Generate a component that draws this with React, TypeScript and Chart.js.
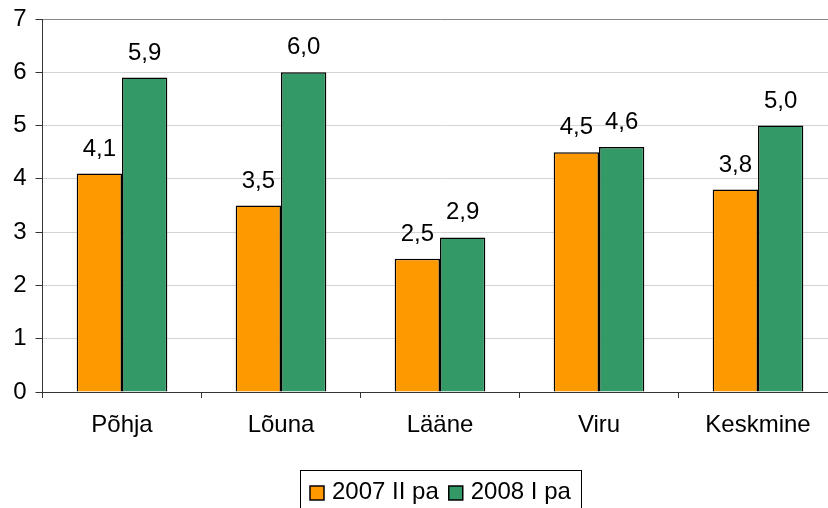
import React, { useEffect, useRef } from "react";
import { Chart, registerables } from "chart.js";

Chart.register(...registerables);

const categories = ["Põhja", "Lõuna", "Lääne", "Viru", "Keskmine"];
const series2007 = [4.1, 3.5, 2.5, 4.5, 3.8];
const series2008 = [5.9, 6.0, 2.9, 4.6, 5.0];
const seriesNames = ["2007 II pa", "2008 I pa"];
const yTicks = [0, 1, 2, 3, 4, 5, 6, 7];

const FONT = "'Liberation Sans', Arial, sans-serif";

const valueLabels = {
  id: "valueLabels",
  afterDatasetsDraw(chart: any) {
    const ctx = chart.ctx;
    ctx.save();
    ctx.font = `24px ${FONT}`;
    ctx.fillStyle = "#000";
    ctx.textAlign = "center";
    ctx.textBaseline = "alphabetic";
    chart.data.datasets.forEach((ds: any, di: number) => {
      const meta = chart.getDatasetMeta(di);
      meta.data.forEach((el: any, i: number) => {
        const v = ds.data[i];
        ctx.fillText(v.toFixed(1).replace(".", ","), el.x, el.y - 18);
      });
    });
    ctx.restore();
  },
};

const boxLegend = {
  id: "boxLegend",
  afterDraw(chart: any) {
    const ctx = chart.ctx;
    const area = chart.chartArea;
    ctx.save();
    ctx.font = `24px ${FONT}`;
    const padX = 10;
    const sw = 14;
    const gapText = 8;
    const gapItem = 10;
    const items = chart.data.datasets.map((ds: any) => ({
      text: ds.label,
      color: ds.backgroundColor,
      w: ctx.measureText(ds.label).width,
    }));
    let total = padX * 2;
    items.forEach((it: any, i: number) => {
      total += sw + gapText + it.w + (i > 0 ? gapItem : 0);
    });
    const cx = (area.left + area.right) / 2;
    const left = Math.round(cx - total / 2);
    const top = Math.round(area.bottom + 78);
    ctx.strokeStyle = "#000";
    ctx.lineWidth = 1;
    ctx.strokeRect(left + 0.5, top + 0.5, Math.round(total), 60);
    let x = left + padX;
    const swTop = area.bottom + 94;
    const baseline = area.bottom + 107;
    items.forEach((it: any) => {
      ctx.fillStyle = it.color;
      ctx.fillRect(x, swTop, sw, sw);
      ctx.strokeStyle = "#000";
      ctx.lineWidth = 1.5;
      ctx.strokeRect(x, swTop, sw, sw);
      ctx.fillStyle = "#000";
      ctx.textAlign = "left";
      ctx.textBaseline = "alphabetic";
      ctx.fillText(it.text, x + sw + gapText, baseline);
      x += sw + gapText + it.w + gapItem;
    });
    ctx.restore();
  },
};

export default function App() {
  const ref = useRef<HTMLCanvasElement>(null);
  useEffect(() => {
    if (!ref.current) return;
    const chart = new Chart(ref.current, {
      type: "bar",
      data: {
        labels: categories,
        datasets: [
          {
            label: seriesNames[0],
            data: series2007,
            backgroundColor: "#FF9900",
            borderColor: "#000",
            borderWidth: 1.5,
            categoryPercentage: 0.57,
            barPercentage: 1,
          },
          {
            label: seriesNames[1],
            data: series2008,
            backgroundColor: "#339966",
            borderColor: "#000",
            borderWidth: 1.5,
            categoryPercentage: 0.57,
            barPercentage: 1,
          },
        ],
      },
      plugins: [valueLabels, boxLegend],
      options: {
        responsive: false,
        animation: false,
        layout: { padding: { top: 19, right: 8.5, left: 0, bottom: 49 } },
        plugins: {
          tooltip: { enabled: false },
          legend: { display: false },
        },
        scales: {
          x: {
            afterFit(scale: any) {
              scale.height = 74;
            },
            grid: {
              offset: true,
              drawOnChartArea: false,
              drawTicks: true,
              tickLength: 6,
              tickColor: "#333",
            },
            border: { color: "#333", width: 1 },
            ticks: {
              color: "#000",
              padding: 13,
              font: { family: FONT, size: 24 },
            },
          },
          y: {
            min: 0,
            max: 7,
            afterFit(scale: any) {
              scale.width = 42.5;
              scale.paddingTop = 0;
              scale.paddingBottom = 0;
            },
            afterBuildTicks(scale: any) {
              scale.ticks = yTicks.map((v) => ({ value: v }));
            },
            grid: {
              color: (c: any) =>
                c.tick && c.tick.value === 7 ? "#888" : c.tick && c.tick.value === 0 ? "#333" : "#d4d4d4",
              tickLength: 7,
              tickColor: "#333",
              lineWidth: 1,
            },
            border: { color: "#333", width: 1 },
            ticks: {
              color: "#000",
              padding: 9,
              font: { family: FONT, size: 24 },
              callback: (v: any) => String(v),
            },
          },
        },
      } as any,
    });
    return () => chart.destroy();
  }, []);
  return (
    <div
      style={{
        position: "fixed",
        left: 0,
        top: 0,
        width: 828,
        height: 508,
        overflow: "hidden",
        background: "#fff",
      }}
    >
      <canvas ref={ref} width={846} height={515} style={{ display: "block" }} />
    </div>
  );
}
